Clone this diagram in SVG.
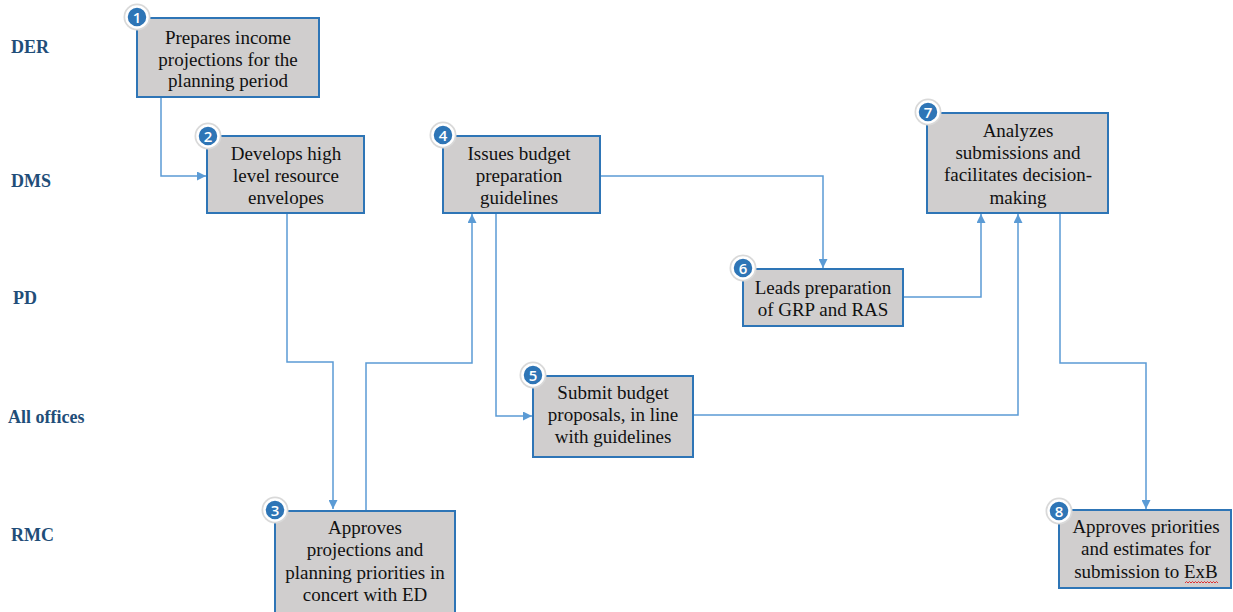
<svg xmlns="http://www.w3.org/2000/svg" width="1233" height="612" viewBox="0 0 1233 612">
  <style>
    .lane { font-family: "Liberation Serif", "Times New Roman", serif; font-weight: bold; font-size: 18px; fill: #1F4E79; }
    .box { fill: #D0CECE; stroke: #2E75B6; stroke-width: 2; }
    .txt { font-family: "Liberation Serif", "Times New Roman", serif; font-size: 19px; fill: #111; text-anchor: middle; }
    .halo { fill: #D9D9D9; }
    .dot { fill: #2E75B6; stroke: #FFFFFF; stroke-width: 2.5; }
    .num { font-family: "Open Sans", "Liberation Sans", sans-serif; font-size: 15px; font-weight: 600; fill: #FFFFFF; text-anchor: middle; }
    .link { fill: none; stroke: #5B9BD5; stroke-width: 1.5; marker-end: url(#arrow); }
    .squiggle { fill: none; stroke: #E02020; stroke-width: 0.9; }
  </style>
  <defs>
    <marker id="arrow" viewBox="0 0 10 10" refX="10" refY="5" markerWidth="6" markerHeight="6" orient="auto" markerUnits="strokeWidth">
      <path d="M0,0 L10,5 L0,10 Z" fill="#5B9BD5"/>
    </marker>
  </defs>

  <rect width="1233" height="612" fill="#FFFFFF"/>

  <!-- swimlane labels -->
  <g id="lanes">
    <text class="lane" x="11" y="53">DER</text>
    <text class="lane" x="11" y="187">DMS</text>
    <text class="lane" x="13" y="304">PD</text>
    <text class="lane" x="8" y="423">All offices</text>
    <text class="lane" x="11" y="541">RMC</text>
  </g>

  <!-- connectors -->
  <g id="connectors">
    <path class="link" d="M161,97 V176 H206"/>
    <path class="link" d="M287,213 V362 H333 V509"/>
    <path class="link" d="M366,511 V363 H472 V214"/>
    <path class="link" d="M496,213 V416 H532"/>
    <path class="link" d="M600,176 H823 V268"/>
    <path class="link" d="M903,297 H981 V214"/>
    <path class="link" d="M693,415 H1018 V214"/>
    <path class="link" d="M1060,213 V363 H1146 V509"/>
  </g>

  <!-- step 1 -->
  <g id="node1">
    <rect class="box" x="137" y="18" width="182" height="79"/>
    <text class="txt" x="228" y="44">Prepares income</text>
    <text class="txt" x="228" y="65.5">projections for the</text>
    <text class="txt" x="228" y="87">planning period</text>
    <circle class="halo" cx="137" cy="17" r="13.5"/>
    <circle class="dot" cx="137" cy="17" r="10.5"/>
    <text class="num" x="137" y="22.5">1</text>
  </g>

  <!-- step 2 -->
  <g id="node2">
    <rect class="box" x="207" y="136" width="157" height="77"/>
    <text class="txt" x="286" y="160">Develops high</text>
    <text class="txt" x="286" y="182">level resource</text>
    <text class="txt" x="286" y="204">envelopes</text>
    <circle class="halo" cx="208" cy="136" r="13.5"/>
    <circle class="dot" cx="208" cy="136" r="10.5"/>
    <text class="num" x="208" y="141.5">2</text>
  </g>

  <!-- step 3 -->
  <g id="node3">
    <rect class="box" x="275" y="511" width="180" height="105"/>
    <text class="txt" x="365" y="534">Approves</text>
    <text class="txt" x="365" y="556">projections and</text>
    <text class="txt" x="365" y="579">planning priorities in</text>
    <text class="txt" x="365" y="601">concert with ED</text>
    <circle class="halo" cx="275" cy="510" r="13.5"/>
    <circle class="dot" cx="275" cy="510" r="10.5"/>
    <text class="num" x="275" y="515.5">3</text>
  </g>

  <!-- step 4 -->
  <g id="node4">
    <rect class="box" x="443" y="136" width="157" height="77"/>
    <text class="txt" x="519" y="160">Issues budget</text>
    <text class="txt" x="519" y="182">preparation</text>
    <text class="txt" x="519" y="204">guidelines</text>
    <circle class="halo" cx="443" cy="135" r="13.5"/>
    <circle class="dot" cx="443" cy="135" r="10.5"/>
    <text class="num" x="443" y="140.5">4</text>
  </g>

  <!-- step 5 -->
  <g id="node5">
    <rect class="box" x="533" y="376" width="160" height="81"/>
    <text class="txt" x="613" y="399">Submit budget</text>
    <text class="txt" x="613" y="421">proposals, in line</text>
    <text class="txt" x="613" y="443">with guidelines</text>
    <circle class="halo" cx="533" cy="375" r="13.5"/>
    <circle class="dot" cx="533" cy="375" r="10.5"/>
    <text class="num" x="533" y="380.5">5</text>
  </g>

  <!-- step 6 -->
  <g id="node6">
    <rect class="box" x="743" y="269" width="160" height="57"/>
    <text class="txt" x="823" y="294">Leads preparation</text>
    <text class="txt" x="823" y="316">of GRP and RAS</text>
    <circle class="halo" cx="743" cy="268" r="13.5"/>
    <circle class="dot" cx="743" cy="268" r="10.5"/>
    <text class="num" x="743" y="273.5">6</text>
  </g>

  <!-- step 7 -->
  <g id="node7">
    <rect class="box" x="927" y="113" width="181" height="100"/>
    <text class="txt" x="1018" y="137">Analyzes</text>
    <text class="txt" x="1018" y="159">submissions and</text>
    <text class="txt" x="1018" y="181">facilitates decision-</text>
    <text class="txt" x="1018" y="204">making</text>
    <circle class="halo" cx="928" cy="112" r="13.5"/>
    <circle class="dot" cx="928" cy="112" r="10.5"/>
    <text class="num" x="928" y="117.5">7</text>
  </g>

  <!-- step 8 -->
  <g id="node8">
    <rect class="box" x="1059" y="510" width="172" height="78"/>
    <text class="txt" x="1146" y="533">Approves priorities</text>
    <text class="txt" x="1146" y="555">and estimates for</text>
    <text class="txt" x="1146" y="578">submission to ExB</text>
    <path class="squiggle" d="M1185,583 l1.5,-1.5 l1.5,1.5 l1.5,-1.5 l1.5,1.5 l1.5,-1.5 l1.5,1.5 l1.5,-1.5 l1.5,1.5 l1.5,-1.5 l1.5,1.5 l1.5,-1.5 l1.5,1.5 l1.5,-1.5 l1.5,1.5 l1.5,-1.5 l1.5,1.5 l1.5,-1.5 l1.5,1.5 l1.5,-1.5 l1.5,1.5 l1.5,-1.5 l1.5,1.5"/>
    <circle class="halo" cx="1059" cy="511" r="13.5"/>
    <circle class="dot" cx="1059" cy="511" r="10.5"/>
    <text class="num" x="1059" y="516.5">8</text>
  </g>
</svg>
